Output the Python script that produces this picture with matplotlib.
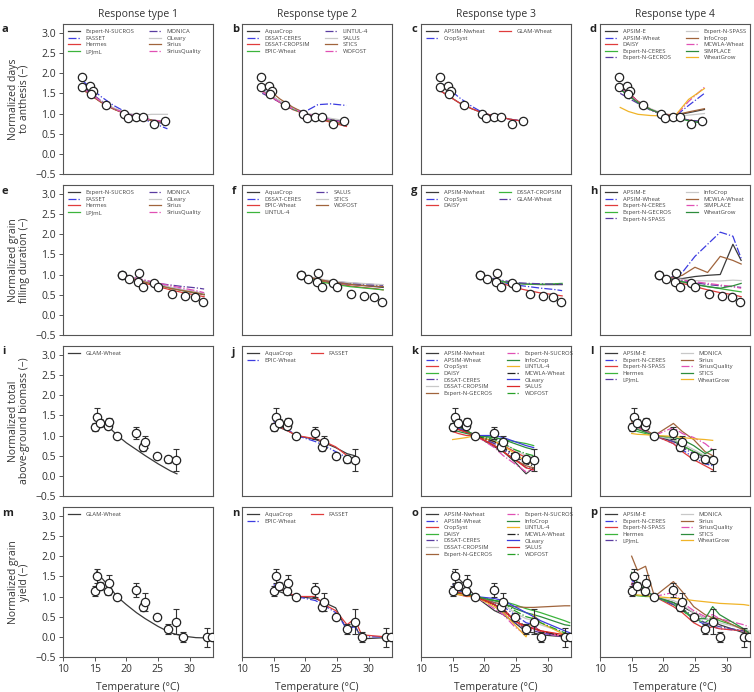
import matplotlib
matplotlib.use("Agg")
import matplotlib.pyplot as plt
import numpy as np

plt.rcParams['font.family'] = ['Open Sans', 'DejaVu Sans']

# ---- observations ----
t_anth = [13.0, 13.0, 14.2, 14.7, 14.4, 16.8, 19.7, 20.3, 21.5, 22.7, 24.3, 26.1]
obs_anth = [1.90, 1.66, 1.69, 1.56, 1.48, 1.21, 0.98, 0.89, 0.91, 0.91, 0.74, 0.82]

t_gf = [19.3, 19.4, 20.4, 22.0, 21.9, 22.7, 24.4, 25.0, 27.2, 29.3, 30.9, 32.1]
obs_gf = [0.99, 0.98, 0.88, 1.05, 0.82, 0.70, 0.78, 0.70, 0.52, 0.47, 0.45, 0.33]

t_bio = [15.0, 15.4, 15.9, 17.1, 17.2, 18.6, 21.6, 22.7, 23.0, 24.8, 26.6, 27.8]
obs_bio = [1.22, 1.47, 1.30, 1.24, 1.33, 0.99, 1.07, 0.71, 0.83, 0.48, 0.41, 0.39]
err_bio = [0.10, 0.22, 0.10, 0.08, 0.10, 0.04, 0.15, 0.10, 0.15, 0.05, 0.08, 0.28]

t_yld = [15.0, 15.4, 15.9, 17.1, 17.2, 18.6, 21.6, 22.7, 23.0, 24.8, 26.6, 27.8, 28.9, 32.7, 33.5]
obs_yld = [1.13, 1.51, 1.26, 1.13, 1.34, 0.99, 1.16, 0.75, 0.87, 0.50, 0.20, 0.38, -0.01, -0.01, -0.01]
err_yld = [0.12, 0.18, 0.10, 0.08, 0.20, 0.05, 0.18, 0.10, 0.22, 0.05, 0.12, 0.32, 0.13, 0.23, 0.05]

# ---- model temperature grids ----
tm_anth = [13.2, 14.5, 16.0, 18.0, 20.0, 22.0, 24.0, 26.5]
tm_gf = [19.3, 21.0, 23.0, 25.0, 27.0, 29.0, 31.0, 32.3]
tm_bio = [15.0, 15.9, 17.2, 18.6, 21.6, 23.0, 24.8, 26.6, 27.8]
tm_yld = [15.0, 15.9, 17.2, 18.6, 21.6, 23.0, 24.8, 26.6, 27.8, 28.9, 32.7, 33.5]

# ---- row 1: days to anthesis ----
a_names = ['Expert-N-SUCROS', 'FASSET', 'Hermes', 'LPJmL', 'MONICA', 'OLeary', 'Sirius', 'SiriusQuality']
a_vals = [[1.62, 1.46, 1.30, 1.12, 1.00, 0.91, 0.84, 0.78],
          [1.80, 1.62, 1.42, 1.20, 1.03, 0.90, 0.78, 0.62],
          [1.58, 1.44, 1.28, 1.11, 0.98, 0.90, 0.83, 0.76],
          [1.60, 1.45, 1.29, 1.12, 0.99, 0.90, 0.83, 0.77],
          [1.65, 1.50, 1.32, 1.13, 1.00, 0.90, 0.82, 0.72],
          [1.60, 1.46, 1.30, 1.14, 1.02, 0.95, 0.98, 0.98],
          [1.60, 1.45, 1.28, 1.11, 0.99, 0.90, 0.83, 0.77],
          [1.62, 1.47, 1.30, 1.12, 1.00, 0.91, 0.84, 0.80]]

b_names = ['AquaCrop', 'DSSAT-CERES', 'DSSAT-CROPSIM', 'EPIC-Wheat', 'LINTUL-4', 'SALUS', 'STICS', 'WOFOST']
b_vals = [[1.60, 1.45, 1.30, 1.12, 1.00, 0.92, 0.85, 0.78],
          [1.62, 1.45, 1.28, 1.10, 1.05, 1.22, 1.24, 1.20],
          [1.55, 1.42, 1.27, 1.10, 0.98, 0.88, 0.78, 0.68],
          [1.58, 1.44, 1.28, 1.11, 0.99, 0.90, 0.82, 0.75],
          [1.50, 1.40, 1.28, 1.12, 1.00, 0.92, 0.85, 0.78],
          [1.60, 1.46, 1.30, 1.14, 1.02, 0.94, 0.88, 0.82],
          [1.72, 1.55, 1.36, 1.16, 1.00, 0.88, 0.80, 0.72],
          [1.55, 1.42, 1.28, 1.12, 1.00, 0.92, 0.84, 0.76]]

c_names = ['APSIM-Nwheat', 'CropSyst', 'GLAM-Wheat']
c_vals = [[1.55, 1.42, 1.27, 1.12, 1.00, 0.93, 0.86, 0.80],
          [1.75, 1.60, 1.40, 1.18, 1.00, 0.92, 0.86, 0.80],
          [1.55, 1.42, 1.27, 1.12, 1.00, 0.93, 0.86, 0.80]]

d_names = ['APSIM-E', 'APSIM-Wheat', 'DAISY', 'Expert-N-CERES', 'Expert-N-GECROS',
           'Expert-N-SPASS', 'InfoCrop', 'MCWLA-Wheat', 'SIMPLACE', 'WheatGrow']
d_vals = [[1.62, 1.45, 1.28, 1.10, 0.98, 0.96, 1.02, 1.10],
          [1.70, 1.50, 1.30, 1.10, 0.97, 0.95, 1.20, 1.50],
          [1.72, 1.52, 1.30, 1.10, 0.97, 0.90, 0.84, 0.78],
          [1.60, 1.45, 1.28, 1.10, 0.97, 0.90, 0.83, 0.77],
          [1.50, 1.38, 1.25, 1.08, 0.97, 0.90, 0.84, 0.80],
          [1.62, 1.46, 1.30, 1.12, 1.00, 0.93, 0.96, 1.00],
          [1.70, 1.50, 1.30, 1.10, 0.98, 0.97, 1.04, 1.12],
          [1.65, 1.48, 1.30, 1.10, 0.97, 0.95, 1.30, 1.65],
          [1.60, 1.45, 1.27, 1.10, 0.97, 0.90, 0.82, 0.75],
          [1.15, 1.05, 0.98, 0.95, 0.94, 0.97, 1.35, 1.62]]

# ---- row 2: grain filling duration ----
e_names = a_names
e_vals = [[1.00, 0.92, 0.83, 0.75, 0.67, 0.60, 0.54, 0.50],
          [0.98, 0.90, 0.82, 0.75, 0.68, 0.62, 0.57, 0.53],
          [0.97, 0.88, 0.78, 0.70, 0.62, 0.55, 0.49, 0.45],
          [1.00, 0.91, 0.82, 0.74, 0.66, 0.60, 0.55, 0.52],
          [1.00, 0.93, 0.85, 0.78, 0.74, 0.70, 0.67, 0.64],
          [1.00, 0.92, 0.83, 0.75, 0.68, 0.62, 0.57, 0.53],
          [0.98, 0.90, 0.81, 0.73, 0.66, 0.60, 0.55, 0.50],
          [1.00, 0.93, 0.86, 0.79, 0.72, 0.66, 0.60, 0.55]]

f_names = ['AquaCrop', 'DSSAT-CERES', 'EPIC-Wheat', 'LINTUL-4', 'SALUS', 'STICS', 'WOFOST']
f_vals = [[1.00, 0.92, 0.85, 0.80, 0.76, 0.73, 0.70, 0.68],
          [0.98, 0.90, 0.82, 0.78, 0.76, 0.74, 0.72, 0.70],
          [1.00, 0.90, 0.82, 0.76, 0.72, 0.68, 0.65, 0.62],
          [0.98, 0.88, 0.80, 0.75, 0.70, 0.67, 0.64, 0.62],
          [1.00, 0.92, 0.86, 0.82, 0.79, 0.77, 0.75, 0.73],
          [1.00, 0.93, 0.87, 0.83, 0.80, 0.78, 0.76, 0.75],
          [1.00, 0.92, 0.85, 0.80, 0.76, 0.73, 0.71, 0.70]]

g_names = ['APSIM-Nwheat', 'CropSyst', 'DAISY', 'DSSAT-CROPSIM', 'GLAM-Wheat']
g_vals = [[1.00, 0.90, 0.82, 0.78, 0.76, 0.75, 0.75, 0.75],
          [1.00, 0.90, 0.80, 0.74, 0.70, 0.66, 0.63, 0.60],
          [0.98, 0.88, 0.77, 0.67, 0.60, 0.54, 0.50, 0.47],
          [1.00, 0.90, 0.82, 0.78, 0.76, 0.76, 0.77, 0.78],
          [1.00, 0.92, 0.85, 0.80, 0.78, 0.77, 0.76, 0.76]]

h_names = ['APSIM-E', 'APSIM-Wheat', 'Expert-N-CERES', 'Expert-N-GECROS', 'Expert-N-SPASS',
           'InfoCrop', 'MCWLA-Wheat', 'SIMPLACE', 'WheatGrow']
h_vals = [[1.00, 0.92, 0.90, 0.95, 0.98, 1.00, 1.75, 1.35],
          [1.00, 0.92, 1.05, 1.45, 1.75, 2.05, 1.95, 1.40],
          [0.98, 0.88, 0.78, 0.70, 0.62, 0.55, 0.50, 0.45],
          [1.00, 0.90, 0.82, 0.76, 0.70, 0.65, 0.60, 0.57],
          [1.00, 0.90, 0.85, 0.80, 0.75, 0.72, 0.70, 0.68],
          [1.00, 0.92, 0.88, 0.85, 0.84, 0.84, 0.86, 0.85],
          [1.00, 0.92, 0.98, 1.18, 1.05, 1.45, 1.35, 1.26],
          [1.00, 0.92, 0.86, 0.82, 0.78, 0.74, 0.70, 0.66],
          [1.00, 0.90, 0.82, 0.75, 0.70, 0.66, 0.72, 0.78]]

# ---- row 3: biomass ----
i_names = ['GLAM-Wheat']
i_t = [15.3, 16.0, 17.0, 18.6, 20.0, 21.6, 23.0, 25.0, 27.0, 28.0]
i_vals = [[1.45, 1.38, 1.25, 1.00, 0.82, 0.65, 0.50, 0.30, 0.12, 0.05]]

j_names = ['AquaCrop', 'EPIC-Wheat', 'FASSET']
j_vals = [[1.25, 1.20, 1.12, 1.00, 0.90, 0.82, 0.70, 0.55, 0.50],
          [1.35, 1.25, 1.15, 1.00, 0.85, 0.75, 0.60, 0.45, 0.40],
          [1.30, 1.22, 1.12, 1.00, 0.92, 0.85, 0.72, 0.50, 0.30]]

k_names = ['APSIM-Nwheat', 'APSIM-Wheat', 'CropSyst', 'DAISY', 'DSSAT-CERES', 'DSSAT-CROPSIM',
           'Expert-N-GECROS', 'Expert-N-SUCROS', 'InfoCrop', 'LINTUL-4', 'MCWLA-Wheat',
           'OLeary', 'SALUS', 'WOFOST']
k_vals = [[1.35, 1.25, 1.12, 1.00, 0.72, 0.60, 0.35, 0.05, 0.20],
          [1.30, 1.20, 1.10, 1.00, 0.80, 0.70, 0.50, 0.30, 0.30],
          [1.10, 1.05, 1.00, 1.00, 0.85, 0.75, 0.60, 0.45, 0.35],
          [1.25, 1.20, 1.10, 1.00, 0.95, 0.90, 0.85, 0.80, 0.75],
          [1.30, 1.22, 1.10, 1.00, 0.80, 0.65, 0.45, 0.20, 0.20],
          [1.20, 1.15, 1.08, 1.00, 0.88, 0.80, 0.65, 0.50, 0.45],
          [1.20, 1.15, 1.08, 1.00, 0.75, 0.60, 0.40, 0.25, 0.20],
          [1.25, 1.20, 1.10, 1.00, 0.70, 0.50, 0.30, 0.10, 0.15],
          [1.15, 1.10, 1.05, 1.00, 0.95, 0.90, 0.80, 0.70, 0.65],
          [0.90, 0.92, 0.95, 1.00, 0.85, 0.75, 0.55, 0.35, 0.30],
          [1.30, 1.20, 1.10, 1.00, 0.85, 0.70, 0.50, 0.30, 0.25],
          [1.25, 1.18, 1.10, 1.00, 1.00, 0.95, 0.85, 0.75, 0.70],
          [1.20, 1.15, 1.08, 1.00, 0.75, 0.60, 0.40, 0.20, 0.15],
          [1.30, 1.22, 1.12, 1.00, 0.90, 0.80, 0.65, 0.55, 0.50]]

l_names = ['APSIM-E', 'Expert-N-CERES', 'Expert-N-SPASS', 'Hermes', 'LPJmL',
           'MONICA', 'Sirius', 'SiriusQuality', 'STICS', 'WheatGrow']
l_vals = [[1.30, 1.20, 1.10, 1.00, 0.85, 0.75, 0.60, 0.45, 0.35],
          [1.25, 1.18, 1.08, 1.00, 0.80, 0.65, 0.45, 0.30, 0.25],
          [1.30, 1.20, 1.10, 1.00, 0.80, 0.60, 0.40, 0.25, 0.15],
          [1.15, 1.10, 1.05, 1.00, 0.90, 0.75, 0.60, 0.50, 0.45],
          [1.30, 1.20, 1.10, 1.00, 0.85, 0.70, 0.55, 0.40, 0.35],
          [1.25, 1.18, 1.08, 1.00, 0.90, 0.80, 0.65, 0.50, 0.45],
          [1.35, 1.25, 1.15, 1.00, 1.30, 1.10, 0.90, 0.60, 0.50],
          [1.30, 1.20, 1.10, 1.00, 1.20, 1.05, 0.95, 0.80, 0.65],
          [1.20, 1.15, 1.08, 1.00, 0.95, 0.90, 0.75, 0.55, 0.65],
          [1.05, 1.03, 1.02, 1.00, 0.98, 0.95, 0.92, 0.90, 0.88]]

# ---- row 4: grain yield ----
m_names = ['GLAM-Wheat']
m_t = [15.3, 16.0, 17.0, 18.6, 20.0, 21.6, 23.0, 25.0, 27.0, 28.9, 31.0, 33.5]
m_vals = [[1.63, 1.48, 1.30, 0.99, 0.80, 0.60, 0.45, 0.26, 0.10, 0.02, -0.02, -0.03]]

n_names = ['AquaCrop', 'EPIC-Wheat', 'FASSET']
n_vals = [[1.15, 1.12, 1.05, 1.00, 0.95, 0.85, 0.72, 0.15, 0.30, -0.05, -0.02, -0.02],
          [1.30, 1.20, 1.10, 1.00, 0.90, 0.78, 0.60, 0.20, 0.25, 0.00, 0.00, 0.00],
          [1.25, 1.20, 1.10, 1.00, 1.00, 0.80, 0.65, 0.30, 0.45, 0.05, 0.00, 0.00]]

o_names = k_names
o_vals = [[1.62, 1.45, 1.25, 1.00, 0.65, 0.55, 0.35, 0.13, 0.10, 0.05, 0.00, 0.00],
          [1.30, 1.20, 1.10, 1.00, 0.85, 0.75, 0.55, 0.35, 0.30, 0.10, 0.00, 0.00],
          [1.05, 1.05, 1.00, 1.00, 0.80, 0.70, 0.40, 0.20, 0.25, 0.15, 0.00, 0.00],
          [1.15, 1.10, 1.05, 1.00, 0.90, 0.88, 0.80, 0.70, 0.65, 0.60, 0.40, 0.35],
          [1.20, 1.15, 1.08, 1.00, 0.80, 0.60, 0.35, 0.20, 0.15, 0.10, 0.00, 0.00],
          [1.20, 1.15, 1.08, 1.00, 0.90, 0.80, 0.60, 0.45, 0.40, 0.30, 0.10, 0.05],
          [1.10, 1.08, 1.05, 1.00, 0.85, 0.80, 0.75, 0.73, 0.73, 0.74, 0.77, 0.77],
          [1.25, 1.18, 1.08, 1.00, 0.70, 0.55, 0.25, 0.05, 0.25, 0.10, 0.00, 0.00],
          [1.10, 1.08, 1.05, 1.00, 0.90, 0.85, 0.70, 0.60, 0.55, 0.50, 0.30, 0.28],
          [1.05, 1.05, 1.02, 1.00, 0.75, 0.60, 0.30, 0.00, 0.55, 0.35, 0.05, 0.00],
          [1.30, 1.20, 1.10, 1.00, 0.80, 0.65, 0.45, 0.25, 0.20, 0.15, 0.00, 0.00],
          [1.20, 1.15, 1.08, 1.00, 0.95, 0.90, 0.75, 0.60, 0.50, 0.40, 0.15, 0.10],
          [1.15, 1.10, 1.05, 1.00, 0.80, 0.65, 0.40, 0.25, 0.20, 0.15, 0.05, 0.05],
          [1.25, 1.18, 1.08, 1.00, 0.90, 0.85, 0.65, 0.50, 0.45, 0.35, 0.10, 0.05]]

p_names = l_names
p_vals = [[1.30, 1.20, 1.10, 1.00, 0.85, 0.75, 0.60, 0.45, 0.40, 0.30, 0.10, 0.05],
          [1.40, 1.30, 1.15, 1.00, 0.80, 0.65, 0.45, 0.30, 0.25, 0.20, 0.15, 0.15],
          [1.30, 1.22, 1.12, 1.00, 0.75, 0.60, 0.35, 0.20, 0.25, 0.20, 0.15, 0.12],
          [1.05, 1.02, 1.00, 1.00, 0.80, 0.65, 0.45, 0.35, 0.50, 0.40, 0.20, 0.15],
          [1.30, 1.20, 1.12, 1.00, 0.80, 0.70, 0.50, 0.35, 0.30, 0.25, 0.15, 0.10],
          [1.25, 1.18, 1.10, 1.00, 0.90, 0.80, 0.60, 0.45, 0.40, 0.35, 0.20, 0.15],
          [2.00, 1.65, 1.75, 1.00, 1.37, 1.12, 0.75, 0.55, 0.47, 0.45, 0.17, 0.04],
          [1.35, 1.25, 1.15, 1.00, 1.10, 0.85, 0.65, 0.50, 0.55, 0.45, 0.30, 0.25],
          [1.60, 1.35, 1.15, 1.00, 0.85, 0.70, 0.45, 0.45, 0.75, 0.55, 0.20, 0.10],
          [1.05, 1.04, 1.02, 1.00, 0.96, 0.94, 0.90, 0.87, 0.85, 0.83, 0.80, 0.78]]

# line style cycle used for models within a panel
styles = [('#3a3a3a', '-'), ('#3c3ce0', '-.'), ('#e03c3c', '-'), ('#3cb43c', '-'),
          ('#5a3ca0', '-.'), ('#c8c8c8', '-'), ('#a0643c', '-'), ('#e050b4', '-.'),
          ('#2d8c3c', '-'), ('#f0b428', '-'), ('#222222', '-.'), ('#3c3cdc', '-'),
          ('#dc2828', '-'), ('#28a028', '-.')]

panels = [
    [('a', tm_anth, a_names, a_vals), ('b', tm_anth, b_names, b_vals),
     ('c', tm_anth, c_names, c_vals), ('d', tm_anth, d_names, d_vals)],
    [('e', tm_gf, e_names, e_vals), ('f', tm_gf, f_names, f_vals),
     ('g', tm_gf, g_names, g_vals), ('h', tm_gf, h_names, h_vals)],
    [('i', i_t, i_names, i_vals), ('j', tm_bio, j_names, j_vals),
     ('k', tm_bio, k_names, k_vals), ('l', tm_bio, l_names, l_vals)],
    [('m', m_t, m_names, m_vals), ('n', tm_yld, n_names, n_vals),
     ('o', tm_yld, o_names, o_vals), ('p', tm_yld, p_names, p_vals)],
]
row_obs = [(t_anth, obs_anth, None), (t_gf, obs_gf, None),
           (t_bio, obs_bio, err_bio), (t_yld, obs_yld, err_yld)]
row_labels = ['Normalized days\nto anthesis (\u2212)',
              'Normalized grain\nfilling duration (\u2212)',
              'Normalized total\nabove-ground biomass (\u2212)',
              'Normalized grain\nyield (\u2212)']

W, H = 754, 692
fig = plt.figure(figsize=(W / 100, H / 100), dpi=100)
col_left = [63, 242, 421, 600]
row_top = [24, 185, 346, 507]
size = 150

for r in range(4):
    for c in range(4):
        letter, tm, names, vals = panels[r][c]
        ax = fig.add_axes([col_left[c] / W, 1 - (row_top[r] + size) / H, size / W, size / H])
        for k, (name, v) in enumerate(zip(names, vals)):
            col, ls = styles[k]
            ax.plot(tm, v, color=col, ls=ls, lw=0.9, label=name)
        t, o, e = row_obs[r]
        if e is not None:
            ax.errorbar(t, o, yerr=e, fmt='none', ecolor='#333333', elinewidth=0.8,
                        capsize=2, capthick=0.8, zorder=4)
        ax.plot(t, o, 'o', mfc='white', mec='#222222', mew=0.9, ms=6, zorder=5)
        ax.set_xlim(10, 33.7)
        ax.set_ylim(-0.5, 3.22)
        ax.set_yticks(np.arange(-0.5, 3.01, 0.5))
        ax.set_xticks([10, 15, 20, 25, 30])
        for s in ax.spines.values():
            s.set_color('#555555')
            s.set_linewidth(0.8)
        ax.tick_params(direction='out', length=3, width=0.7, color='#555555',
                       labelsize=7.5, pad=2, labelcolor='#333333')
        if c == 0:
            ax.set_yticklabels(['\u22120.5', '0.0', '0.5', '1.0', '1.5', '2.0', '2.5', '3.0'])
            ax.set_ylabel(row_labels[r], fontsize=7.5, color='#333333', labelpad=4,
                          linespacing=1.0)
        else:
            ax.tick_params(left=False, labelleft=False)
        if r == 3:
            ax.set_xlabel('Temperature (\u00b0C)', fontsize=7.5, color='#333333', labelpad=5)
        else:
            ax.tick_params(bottom=False, labelbottom=False)
        if r == 0:
            ax.set_title('Response type %d' % (c + 1), fontsize=7.5, color='#333333', pad=5)
        ax.legend(loc='upper left', ncol=2, frameon=False, fontsize=4.2,
                  handlelength=2.0, handletextpad=1.0, labelspacing=0.25,
                  columnspacing=2.5, borderaxespad=0.5, labelcolor='#444444')
        lx = 2 if c == 0 else col_left[c] - 10
        fig.text(lx / W, 1 - (row_top[r] + 6) / H, letter, fontsize=8,
                 fontweight='bold', va='center', ha='left', color='#222222')

fig.savefig('out.png', dpi=100)
